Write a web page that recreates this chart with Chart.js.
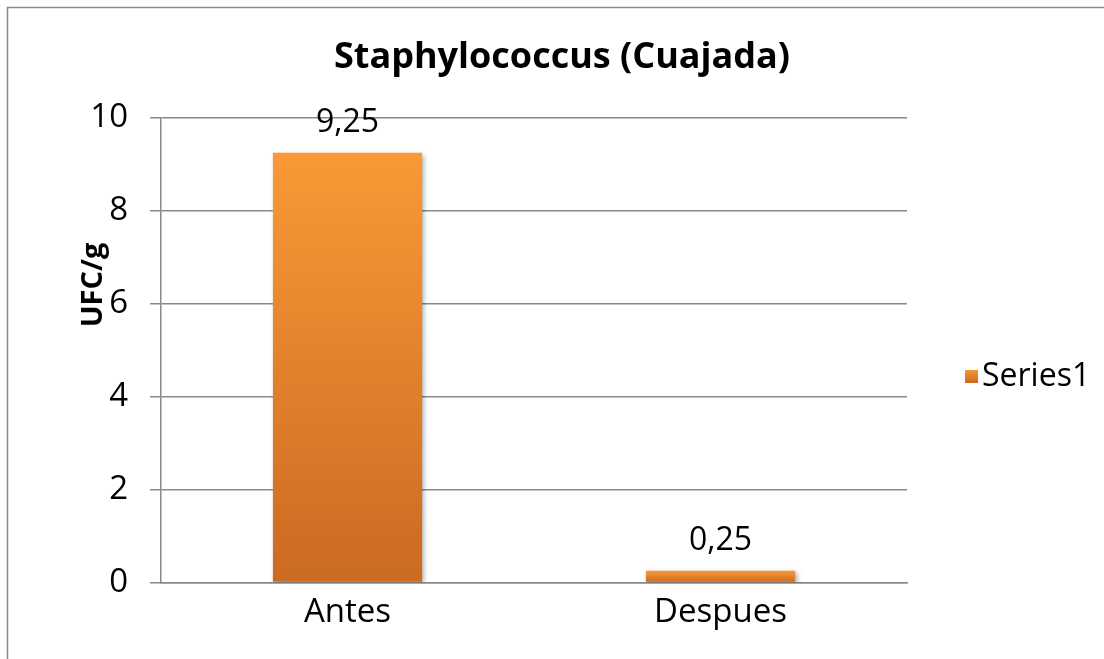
<!DOCTYPE html>
<html>
<head>
<meta charset="utf-8">
<script src="https://cdn.jsdelivr.net/npm/chart.js@4.4.1/dist/chart.umd.min.js"></script>
<style>
  html, body { margin: 0; padding: 0; background: #fff; overflow: hidden; }
  #wrap { width: 1104px; height: 659px; position: relative; }
</style>
</head>
<body>
<div id="wrap"><canvas id="chart"></canvas></div>
<script>
// datos
const categorias = ['Antes', 'Despues'];
const valores = [9.25, 0.25];
const serie = 'Series1';
const titulo = 'Staphylococcus (Cuajada)';
const tituloY = 'UFC/g';
const yMin = 0, yMax = 10, yPaso = 2;

const FONT = '"Open Sans", "Liberation Sans", sans-serif';
const GRIS = '#898989';

// degradado naranja por barra (claro arriba, oscuro abajo)
function naranja(ctx, top, bottom) {
  const g = ctx.createLinearGradient(0, top, 0, bottom);
  g.addColorStop(0, '#FA9936');
  g.addColorStop(1, '#CB6A22');
  return g;
}

// marco, titulos, sombras, etiquetas y leyenda
const extras = {
  id: 'extras',
  beforeDraw(chart) {
    const ctx = chart.ctx;
    ctx.save();
    ctx.strokeStyle = '#8a8a8a';
    ctx.lineWidth = 1.5;
    ctx.beginPath();
    ctx.moveTo(7.5, chart.height);
    ctx.lineTo(7.5, 7.5);
    ctx.lineTo(chart.width, 7.5);
    ctx.stroke();

    // titulo del grafico
    ctx.fillStyle = '#000';
    ctx.font = 'bold 36px ' + FONT;
    ctx.textAlign = 'center';
    ctx.textBaseline = 'middle';
    ctx.fillText(titulo, 562, 58);
    ctx.restore();
  },
  beforeDatasetsDraw(chart) {
    const ctx = chart.ctx;
    ctx.save();
    ctx.shadowColor = 'rgba(0,0,0,0.35)';
    ctx.shadowBlur = 5;
    ctx.shadowOffsetX = 2;
    ctx.shadowOffsetY = 2;
  },
  afterDatasetsDraw(chart) {
    const ctx = chart.ctx;
    ctx.restore();

    // valores encima de las barras, con coma decimal
    ctx.save();
    ctx.fillStyle = '#000';
    ctx.font = '32px ' + FONT;
    ctx.textAlign = 'center';
    ctx.textBaseline = 'alphabetic';
    chart.getDatasetMeta(0).data.forEach((bar, i) => {
      const txt = valores[i].toFixed(2).replace('.', ',');
      ctx.fillText(txt, bar.x, bar.y - 21);
    });
    ctx.restore();

    // titulo del eje Y
    ctx.save();
    ctx.translate(94, 285);
    ctx.rotate(-Math.PI / 2);
    ctx.font = 'bold 29px ' + FONT;
    ctx.fillStyle = '#000';
    ctx.textAlign = 'center';
    ctx.textBaseline = 'middle';
    ctx.fillText(tituloY, 0, 0);
    ctx.restore();

    // leyenda a la derecha (centrada en el marco completo, que sigue fuera de la imagen)
    const ly = 376;
    ctx.save();
    ctx.fillStyle = naranja(ctx, ly - 7, ly + 7);
    ctx.fillRect(965, ly - 6, 13, 13);
    ctx.fillStyle = '#000';
    ctx.font = '32px ' + FONT;
    ctx.textAlign = 'left';
    ctx.textBaseline = 'middle';
    ctx.fillText(chart.data.datasets[0].label, 982, ly + 1);
    ctx.restore();
  }
};

new Chart(document.getElementById('chart'), {
  type: 'bar',
  data: {
    labels: categorias,
    datasets: [{
      label: serie,
      data: valores,
      backgroundColor(c) {
        const chart = c.chart;
        if (!chart.chartArea || c.parsed === undefined) return '#E8832C';
        const y = chart.scales.y;
        return naranja(chart.ctx, y.getPixelForValue(c.parsed.y), y.getPixelForValue(0));
      },
      borderWidth: 0,
      barPercentage: 0.4,
      categoryPercentage: 1.0
    }]
  },
  options: {
    responsive: true,
    maintainAspectRatio: false,
    animation: false,
    layout: { padding: { left: 0, right: 197, top: 118, bottom: 25 } },
    plugins: {
      legend: { display: false },
      tooltip: { enabled: false },
      title: { display: false }
    },
    scales: {
      x: {
        grid: { display: false },
        border: { display: true, color: GRIS, width: 1.5 },
        ticks: { color: '#000', font: { family: FONT, size: 33 }, padding: 2 }
      },
      y: {
        min: yMin,
        max: yMax,
        ticks: { stepSize: yPaso, color: '#000', font: { family: FONT, size: 33 }, padding: 22 },
        grid: { color: GRIS, lineWidth: 1.5, tickLength: 11, drawTicks: true },
        border: { display: true, color: GRIS, width: 1.5 },
        afterFit(scale) { scale.width = 161; }
      }
    }
  },
  plugins: [extras]
});
</script>
</body>
</html>
